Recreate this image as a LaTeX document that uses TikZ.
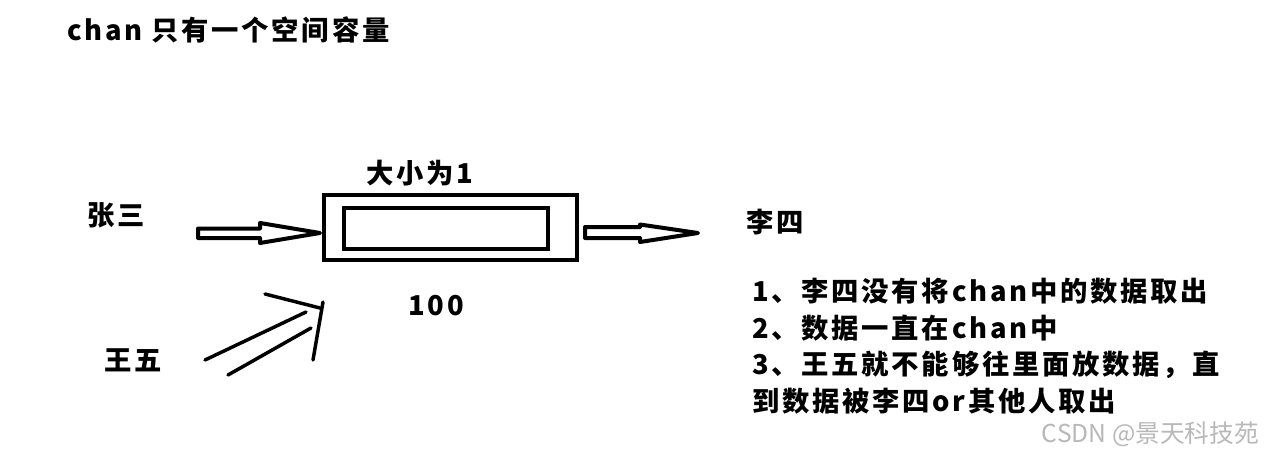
\documentclass[tikz,border=0pt]{standalone}
\usepackage{fontspec}
\setmainfont{Noto Sans CJK SC}[LetterSpace=10]
\newfontfamily\markfont{Noto Sans CJK SC}
\usetikzlibrary{positioning,calc}

\begin{document}
\begin{tikzpicture}[
    x=0.75pt, y=-0.75pt,
    txt/.style={font=\fontsize{20.5}{27.4}\selectfont\bfseries, inner sep=0pt},
    chanbox/.style={rectangle, draw, line width=3pt, minimum width=189.75pt, minimum height=48.75pt},
    slotbox/.style={rectangle, draw, line width=3pt, minimum width=153pt, minimum height=30.75pt},
    hollow/.style={draw, line width=3pt, line join=round},
    stroke/.style={line width=2.6pt, line cap=round}
]
    \useasboundingbox (0,0) rectangle (1264,455);

    \node[txt, anchor=west] (title) at (67,30) {chan 只有一个空间容量};

    % the channel with its single slot
    \node[chanbox] (chan) at (450.5,227.5) {};
    \node[slotbox] (slot) at (446,228.3) {};
    \node[txt] (size) at (420,173) {大小为1};
    \node[txt] (value) at (436,306) {100};

    \node[txt] (zhangsan) at (116,215) {张三};
    \node[txt] (wangwu) at (133,360) {王五};
    \node[txt] (lisi) at (775,222) {李四};

    \node[txt, anchor=north west, align=left] (notes) at (752,278) {1、李四没有将chan中的数据取出\\2、数据一直在chan中\\3、王五就不能够往里面放数据，直\\到数据被李四or其他人取出};

    \node[font=\markfont\fontsize{18.5}{22}\selectfont, text=black!28, anchor=east, inner sep=0pt] (mark) at (1259,434) {CSDN @景天科技苑};

    % hollow arrows in and out
    \draw[hollow] (chan.west) ++(-2,5.5) -- ++(-60,-10) -- ++(0,5.5) -- ++(-62,0) -- ++(0,9.5) -- ++(62,0) -- ++(0,5) -- cycle;
    \draw[hollow] (chan.east) ++(6,-0.5) -- ++(55,0) -- ++(0,-2.5) -- ++(58,8.5) -- ++(-58,9) -- ++(0,-4) -- ++(-55,0) -- cycle;

    % wangwu pushing
    \coordinate (push) at (322,305);
    \draw[stroke] (push) ++(-117,55) -- ++(101,-48);
    \draw[stroke] (push) ++(-94,70) -- ++(83,-47);
    \draw[stroke] (push) ++(-57,-11) -- ++(55,14);
    \draw[stroke] (push) ++(1,-3) -- ++(-10,58);
\end{tikzpicture}
\end{document}
